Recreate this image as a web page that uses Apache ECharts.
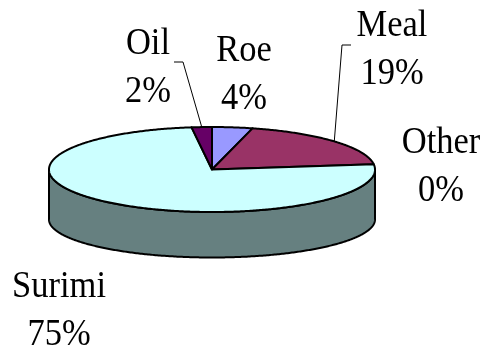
<!DOCTYPE html>
<html>
<head>
<meta charset="utf-8">
<style>html,body{margin:0;padding:0;background:#fff}#c{width:488px;height:350px}</style>
<script src="https://cdn.jsdelivr.net/npm/echarts@6/dist/echarts.min.js"></script>
</head>
<body>
<div id="c"></div>
<script>
const categories = ['Roe', 'Meal', 'Other', 'Surimi', 'Oil'];
const values = [4, 19, 0, 75, 2];
const topColors = ['#9999FF', '#993366', '#FFFFCC', '#CCFFFF', '#660066'];
const sideColors = ['#4D4D80', '#4D1A33', '#808066', '#668080', '#330033'];

const cx = 212, cy = 169.5, rx = 163, ry = 42.5, depth = 50, bottomRy = 38;
const labelPos = [[244, 75], [392, 50], [441, 167], [59, 311], [148, 68]];
const leaderEnd = { 1: [[351, 45], [342, 45]], 4: [[174, 62], [183, 62]] };

const total = values.reduce((a, b) => a + b, 0);
const starts = [];
values.reduce((acc, v, i) => { starts[i] = acc; return acc + v; }, 0);
const toAngle = v => v / total * 2 * Math.PI;
const pt = (t, dy, r) => [cx + rx * Math.sin(t), cy - (r || ry) * Math.cos(t) + (dy || 0)];
function arc(a, b, dy, r) {
  const n = Math.max(2, Math.ceil(Math.abs(b - a) / 0.01));
  const out = [];
  for (let i = 0; i <= n; i++) out.push(pt(a + (b - a) * i / n, dy, r));
  return out;
}
const stroke = { stroke: '#000', lineWidth: 2, lineJoin: 'round' };

function sideItem(params) {
  const i = params.dataIndex;
  const a = Math.max(toAngle(starts[i]), Math.PI / 2);
  const b = Math.min(toAngle(starts[i] + values[i]), 3 * Math.PI / 2);
  if (b <= a) return { type: 'group', children: [] };
  const points = arc(a, b, 0).concat(arc(b, a, depth, bottomRy));
  return { type: 'polygon', shape: { points }, style: Object.assign({ fill: sideColors[i] }, stroke) };
}
function topItem(params) {
  const i = params.dataIndex;
  const children = [];
  if (values[i] > 0) {
    const a = toAngle(starts[i]), b = toAngle(starts[i] + values[i]);
    children.push({ type: 'polygon', shape: { points: [[cx, cy]].concat(arc(a, b, 0)) },
      style: Object.assign({ fill: topColors[i] }, stroke) });
  }
  if (leaderEnd[i]) {
    const mid = toAngle(starts[i] + values[i] / 2);
    children.push({ type: 'polyline', shape: { points: leaderEnd[i].concat([pt(mid, 0)]) },
      style: { fill: null, stroke: '#000', lineWidth: 1 } });
  }
  children.push({ type: 'text', x: labelPos[i][0], y: labelPos[i][1], scaleY: 1.08, style: {
    text: categories[i] + '\n' + values[i] + '%', fill: '#000',
    font: '34.5px "Liberation Serif"', lineHeight: 44.4, align: 'center', verticalAlign: 'middle' } });
  return { type: 'group', children };
}

const data = values.map((v, i) => ({ name: categories[i], value: v }));
const chart = echarts.init(document.getElementById('c'), null, { renderer: 'canvas' });
chart.setOption({
  animation: false,
  backgroundColor: '#fff',
  series: [
    { type: 'custom', coordinateSystem: 'none', renderItem: sideItem, data, silent: true, z: 1 },
    { type: 'custom', coordinateSystem: 'none', renderItem: topItem, data, silent: true, z: 2 }
  ]
});
</script>
</body>
</html>
